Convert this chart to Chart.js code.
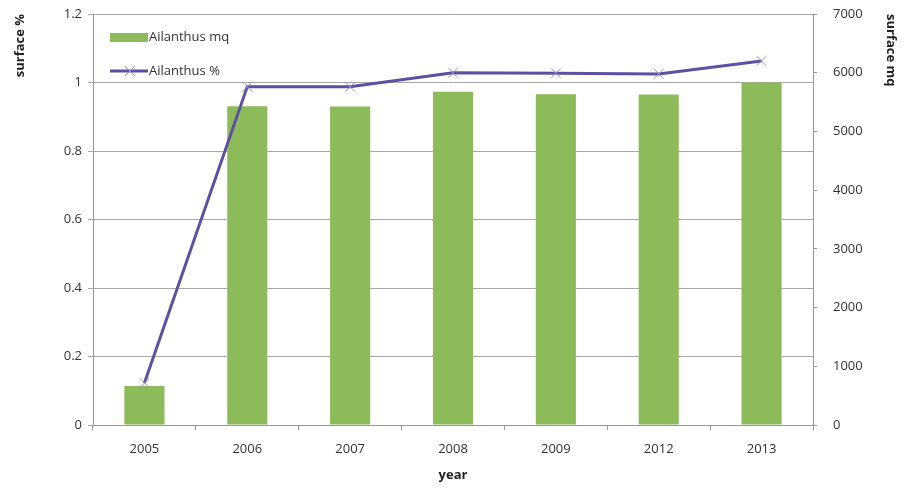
<!DOCTYPE html>
<html>
<head>
<meta charset="utf-8">
<title>Ailanthus surface</title>
<script src="https://cdn.jsdelivr.net/npm/chart.js@4"></script>
<style>
  html, body { margin: 0; padding: 0; background: #fff; }
  #wrap { width: 911px; height: 488px; position: relative; }
</style>
</head>
<body>
<div id="wrap"><canvas id="chart"></canvas></div>
<script>
// chart data
const years = ['2005', '2006', '2007', '2008', '2009', '2012', '2013'];
const surfaceBars = [0.114, 0.931, 0.93, 0.973, 0.966, 0.965, 1.0];
const surfaceLine = [715, 5763, 5760, 6000, 5990, 5980, 6200];
const barLabel = 'Ailanthus mq';
const lineLabel = 'Ailanthus %';

const GREEN = '#8DBB5A';
const PURPLE = '#5E4FA2';
const FONT = "'Open Sans', 'Liberation Sans', sans-serif";

// legend drawn inside the plot area, top left
const insideLegend = {
    id: 'insideLegend',
    afterDraw(chart) {
        const ctx = chart.ctx;
        const area = chart.chartArea;
        const x = area.left + 17;
        ctx.save();
        ctx.font = '13px ' + FONT;
        ctx.fillStyle = '#333';
        ctx.textBaseline = 'middle';
        // bar entry
        let y = area.top + 23;
        ctx.fillStyle = GREEN;
        ctx.fillRect(x, y - 4, 38, 9);
        ctx.fillStyle = '#333';
        ctx.fillText(chart.data.datasets[0].label, x + 39, y);
        // line entry
        y = area.top + 57;
        ctx.strokeStyle = PURPLE;
        ctx.lineWidth = 3;
        ctx.beginPath();
        ctx.moveTo(x, y);
        ctx.lineTo(x + 38, y);
        ctx.stroke();
        ctx.strokeStyle = '#9a93c4';
        ctx.lineWidth = 1;
        ctx.beginPath();
        ctx.moveTo(x + 15, y - 5); ctx.lineTo(x + 25, y + 5);
        ctx.moveTo(x + 25, y - 5); ctx.lineTo(x + 15, y + 5);
        ctx.stroke();
        ctx.fillText(chart.data.datasets[1].label, x + 39, y);
        ctx.restore();
    }
};

// fixed box sizes so the plot area lands where the reference has it
function fitVertical(width) {
    return s => {
        s.width = width;
        s.paddingTop = 0;
        s.paddingBottom = 0;
    };
}

function initializeChart() {
    const ctx = document.getElementById('chart').getContext('2d');
    new Chart(ctx, {
        type: 'bar',
        data: {
            labels: years,
            datasets: [{
                type: 'bar',
                label: barLabel,
                data: surfaceBars,
                backgroundColor: GREEN,
                yAxisID: 'y',
                categoryPercentage: 1,
                barPercentage: 0.39,
                order: 2
            }, {
                type: 'line',
                label: lineLabel,
                data: surfaceLine,
                borderColor: PURPLE,
                borderWidth: 3,
                tension: 0,
                pointStyle: 'crossRot',
                pointRadius: 7,
                pointBorderWidth: 1,
                pointBorderColor: '#9a93c4',
                yAxisID: 'y1',
                order: 1
            }]
        },
        options: {
            responsive: true,
            maintainAspectRatio: false,
            animation: false,
            layout: { padding: { top: 14, left: 0, right: 0, bottom: 0 } },
            plugins: {
                legend: { display: false },
                tooltip: { enabled: false }
            },
            scales: {
                x: {
                    afterFit(s) {
                        s.height = 63;
                        s.paddingLeft = 0;
                        s.paddingRight = 0;
                    },
                    grid: {
                        offset: true,
                        drawOnChartArea: false,
                        tickLength: 5,
                        color: '#999'
                    },
                    border: { color: '#999' },
                    ticks: { color: '#333', font: { family: FONT, size: 13 }, padding: 11 },
                    title: {
                        display: true,
                        text: 'year',
                        color: '#222',
                        font: { family: FONT, size: 13, weight: 'bold' },
                        padding: { top: 0, bottom: 5 }
                    }
                },
                y: {
                    position: 'left',
                    min: 0,
                    max: 1.2,
                    afterFit: fitVertical(93),
                    ticks: {
                        stepSize: 0.2,
                        color: '#333',
                        font: { family: FONT, size: 13 },
                        padding: 6,
                        callback: v => String(Number(v.toFixed(1)))
                    },
                    grid: { color: '#a8a8a8', tickLength: 5 },
                    border: { color: '#999' },
                    title: {
                        display: true,
                        text: 'surface %',
                        align: 'end',
                        color: '#222',
                        font: { family: FONT, size: 13, weight: 'bold' },
                        padding: { top: 12, bottom: 0 }
                    }
                },
                y1: {
                    position: 'right',
                    min: 0,
                    max: 7000,
                    afterFit: fitVertical(98),
                    ticks: {
                        stepSize: 1000,
                        color: '#333',
                        font: { family: FONT, size: 13 },
                        padding: 16,
                        callback: v => String(v)
                    },
                    grid: { drawOnChartArea: false, tickLength: 4, color: '#999' },
                    border: { color: '#999' },
                    title: {
                        display: true,
                        text: 'surface mq',
                        align: 'end',
                        color: '#222',
                        font: { family: FONT, size: 13, weight: 'bold' },
                        padding: { top: 12, bottom: 0 }
                    }
                }
            }
        },
        plugins: [insideLegend]
    });
}

document.addEventListener('DOMContentLoaded', initializeChart);
</script>
</body>
</html>
